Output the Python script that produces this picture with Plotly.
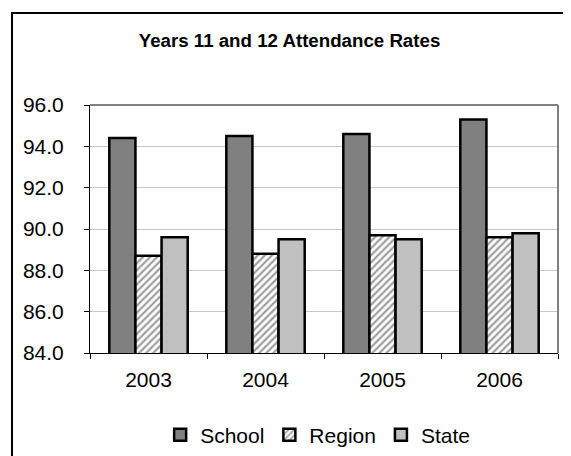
import plotly.graph_objects as go

years = ["2003", "2004", "2005", "2006"]
school = [94.4, 94.5, 94.6, 95.3]
region = [88.7, 88.8, 89.7, 89.6]
state = [89.6, 89.5, 89.5, 89.8]

W, H = 563, 448

fig = go.Figure()
fig.add_trace(go.Bar(name="School", x=years, y=school,
                     marker=dict(color="#808080", line=dict(color="black", width=2.5))))
fig.add_trace(go.Bar(name="Region", x=years, y=region,
                     marker=dict(color="white", line=dict(color="black", width=2.5),
                                 pattern=dict(shape="/", fgcolor="#404040", bgcolor="white",
                                              size=5, solidity=0.45))))
fig.add_trace(go.Bar(name="State", x=years, y=state,
                     marker=dict(color="#C0C0C0", line=dict(color="black", width=2.5))))

fig.update_layout(
    width=W, height=H,
    margin=dict(l=82, r=13, t=97, b=103, autoexpand=False),
    paper_bgcolor="white", plot_bgcolor="white",
    barmode="group", bargap=0.33, bargroupgap=0.0,
    font=dict(family="Arial, Liberation Sans, sans-serif", size=21, color="black"),
    title=dict(text="<b>Years 11 and 12 Attendance Rates</b>", x=0.5, xanchor="center",
               xref="container", yref="container",
               y=1 - 32 / H, yanchor="middle", font=dict(size=18.7, color="black")),
    showlegend=True,
    legend=dict(orientation="h", x=0.55, xanchor="center", xref="container",
                yref="container", y=1 - 427 / H, yanchor="middle",
                font=dict(size=21), itemwidth=30, traceorder="normal",
                bgcolor="rgba(0,0,0,0)"),
    xaxis=dict(type="category", showline=True, linecolor="black", linewidth=1,
               ticks="outside", ticklen=5, tickcolor="black", tickson="boundaries",
               mirror=False, showgrid=False, automargin=False, ticklabelstandoff=8),
    yaxis=dict(range=[84, 96], dtick=2, tickformat=".1f", showline=True,
               linecolor="black", linewidth=1, ticks="outside", ticklen=5,
               tickcolor="black", showgrid=True, gridcolor="#C8C8C8", gridwidth=1,
               zeroline=False, automargin=False, ticklabelstandoff=16),
    shapes=[
        dict(type="line", xref="x domain", yref="y domain", x0=0, x1=1, y0=1, y1=1,
             line=dict(color="#808080", width=2)),
        dict(type="line", xref="x domain", yref="y domain", x0=1, x1=1, y0=0, y1=1,
             line=dict(color="#808080", width=2)),
        dict(type="rect", xref="x domain", yref="y domain",
             x0=-78 / 468, x1=1.2, y0=-0.55, y1=(345 - 5) / 248,
             line=dict(color="black", width=2)),
    ],
)

fig.write_html("out.html")
